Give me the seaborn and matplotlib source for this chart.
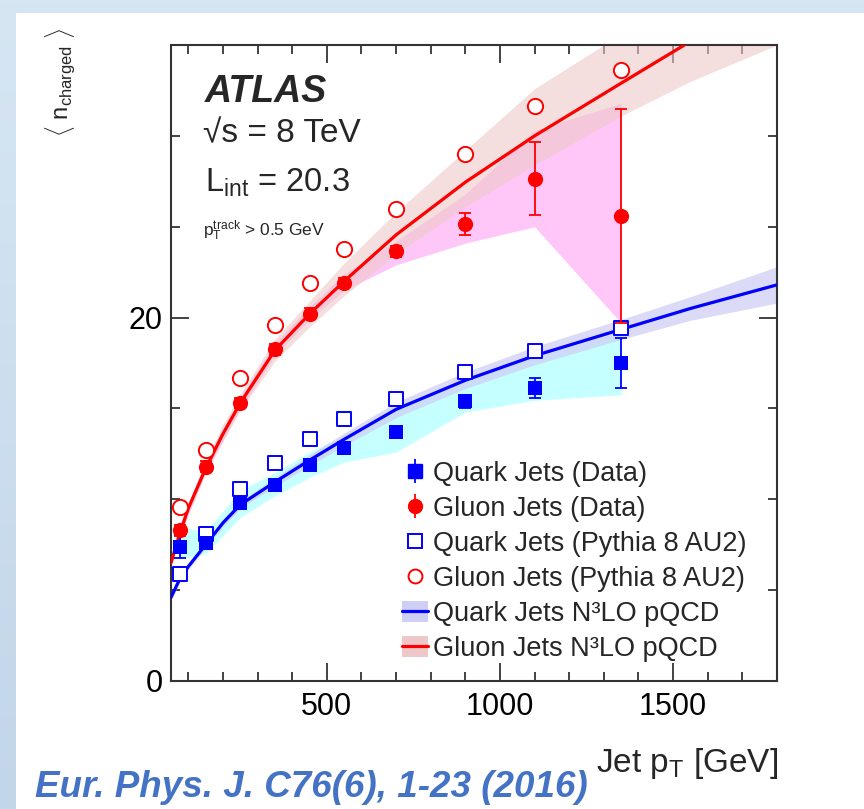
import numpy as np
import pandas as pd
import matplotlib
matplotlib.use("Agg")
import matplotlib.pyplot as plt
import seaborn as sns
from matplotlib.lines import Line2D
from matplotlib.patches import Patch, Rectangle
from matplotlib.legend_handler import HandlerTuple
from matplotlib.ticker import MultipleLocator, FixedLocator
from matplotlib.colors import LinearSegmentedColormap

# ---- measured points (bin centres in GeV) ----
pt_bins = [75, 150, 250, 350, 450, 550, 700, 900, 1100, 1350]

quark_data = [7.4, 7.6, 9.8, 10.8, 11.9, 12.8, 13.7, 15.4, 16.15, 17.5]
quark_data_err = [0.65, 0.3, 0.3, 0.3, 0.3, 0.3, 0.3, 0.35, 0.55, 1.4]
gluon_data = [8.3, 11.8, 15.3, 18.25, 20.2, 21.9, 23.65, 25.15, 27.65, 25.6]
gluon_data_err = [0.3, 0.3, 0.3, 0.3, 0.3, 0.3, 0.3, 0.6, 2.0, 5.9]

# systematic envelopes of the measurement
quark_sys_lo = [6.7, 7.0, 9.0, 10.2, 11.2, 12.05, 12.6, 14.8, 15.45, 15.75]
quark_sys_hi = [8.5, 8.2, 10.5, 11.45, 12.6, 13.5, 15.0, 16.6, 17.8, 19.2]
gluon_sys_lo = [8.0, 11.5, 15.0, 17.9, 19.9, 21.5, 22.9, 24.1, 25.0, 19.7]
gluon_sys_hi = [8.6, 12.1, 15.6, 18.6, 20.6, 22.4, 24.2, 26.8, 30.3, 31.8]

# Pythia 8 AU2 predictions
quark_mc = [5.9, 8.1, 10.55, 12.0, 13.3, 14.4, 15.5, 17.0, 18.15, 19.45]
gluon_mc = [9.6, 12.7, 16.65, 19.6, 21.9, 23.75, 25.95, 29.0, 31.65, 33.6]

# N3LO pQCD curves with uncertainty bands
curve_pt = [50, 75, 100, 150, 200, 250, 350, 450, 550, 700, 900, 1100, 1350, 1550, 1800]
quark_nlo = [4.6, 5.6, 6.3, 7.5, 8.7, 9.7, 10.95, 12.15, 13.3, 14.95, 16.55, 17.9, 19.35, 20.5, 21.8]
quark_nlo_lo = [4.45, 5.45, 6.15, 7.3, 8.5, 9.5, 10.7, 11.85, 12.95, 14.5, 16.1, 17.4, 18.8, 19.85, 20.8]
quark_nlo_hi = [4.75, 5.75, 6.45, 7.7, 8.9, 9.9, 11.2, 12.45, 13.65, 15.35, 17.0, 18.4, 19.9, 21.15, 22.8]
gluon_nlo = [6.5, 8.1, 9.5, 11.7, 13.6, 15.3, 18.2, 20.2, 22.0, 24.55, 27.45, 30.0, 32.9, 35.2, 38.0]
gluon_nlo_lo = [6.3, 7.8, 9.2, 11.4, 13.2, 14.9, 17.6, 19.5, 21.2, 23.5, 26.1, 28.4, 31.1, 33.0, 35.0]
gluon_nlo_hi = [6.7, 8.4, 9.8, 12.1, 14.1, 15.8, 18.8, 20.9, 23.0, 25.8, 29.2, 32.6, 35.6, 38.0, 40.5]

x_ticks_major = [500, 1000, 1500]
y_ticks_labels = {0: "0", 20: "20"}

BLUE = "#0000ff"
RED = "#ff0000"
CYAN = "#c6ffff"
MAGENTA = "#ffc6f8"
LAVENDER = "#cfcff5"
ROSE = "#eec8c8"

sns.set_theme(style="ticks")
plt.rcParams["font.family"] = ["Liberation Sans", "DejaVu Sans"]
plt.rcParams["mathtext.fontset"] = "custom"
plt.rcParams["mathtext.rm"] = "Liberation Sans"
plt.rcParams["mathtext.it"] = "Liberation Sans:italic"
plt.rcParams["mathtext.bf"] = "Liberation Sans:bold"

W, H = 864, 809
fig = plt.figure(figsize=(W / 100, H / 100), dpi=100)

# slide background: pale blue border around a white panel
bg = fig.add_axes([0, 0, 1, 1], zorder=-10)
grad = np.linspace(0, 1, 256).reshape(-1, 1)
cmap = LinearSegmentedColormap.from_list("bgblue", ["#d6e6f3", "#c2d6ea"])
bg.imshow(grad, extent=[0, 1, 0, 1], aspect="auto", cmap=cmap, origin="upper")
bg.add_patch(Rectangle((16 / W, 0), 1, 1 - 13 / H, color="white", lw=0))
bg.set_xlim(0, 1)
bg.set_ylim(0, 1)
bg.axis("off")

ax = fig.add_axes([171 / W, 1 - 681 / H, (777 - 171) / W, (681 - 45) / H])
ax.set_facecolor("white")

meas = pd.DataFrame({
    "pt": pt_bins, "quark": quark_data, "gluon": gluon_data,
    "quark_mc": quark_mc, "gluon_mc": gluon_mc,
})
theory = pd.DataFrame({
    "pt": curve_pt, "quark": quark_nlo, "gluon": gluon_nlo,
})

# systematic bands of the measurement
ax.fill_between(pt_bins, quark_sys_lo, quark_sys_hi, color=CYAN, lw=0, zorder=1)
ax.fill_between(pt_bins, gluon_sys_lo, gluon_sys_hi, color=MAGENTA, lw=0, zorder=1)

# theory uncertainty bands
ax.fill_between(curve_pt, quark_nlo_lo, quark_nlo_hi, color=LAVENDER, lw=0, alpha=0.75, zorder=2)
ax.fill_between(curve_pt, gluon_nlo_lo, gluon_nlo_hi, color=ROSE, lw=0, alpha=0.6, zorder=2)

# theory curves
sns.lineplot(data=theory, x="pt", y="quark", color=BLUE, lw=2.3, ax=ax, zorder=3, sort=False)
sns.lineplot(data=theory, x="pt", y="gluon", color=RED, lw=2.3, ax=ax, zorder=3, sort=False)

# Pythia markers (open)
sns.scatterplot(data=meas, x="pt", y="quark_mc", marker="s", s=110, facecolor="white",
                edgecolor=BLUE, linewidth=1.4, ax=ax, zorder=4)
sns.scatterplot(data=meas, x="pt", y="gluon_mc", marker="o", s=120, facecolor="white",
                edgecolor=RED, linewidth=1.4, ax=ax, zorder=4)

# data with statistical error bars
ax.errorbar(pt_bins, quark_data, yerr=quark_data_err, fmt="none", ecolor=BLUE,
            elinewidth=1.3, capsize=4, capthick=1.3, zorder=5)
ax.errorbar(pt_bins, gluon_data, yerr=gluon_data_err, fmt="none", ecolor=RED,
            elinewidth=1.3, capsize=4, capthick=1.3, zorder=5)
sns.scatterplot(data=meas, x="pt", y="quark", marker="s", s=110, color=BLUE,
                edgecolor=BLUE, linewidth=0, ax=ax, zorder=6)
sns.scatterplot(data=meas, x="pt", y="gluon", marker="o", s=120, color=RED,
                edgecolor=RED, linewidth=0, ax=ax, zorder=6)

ax.set_xlim(50, 1800)
ax.set_ylim(0, 35)
ax.xaxis.set_major_locator(FixedLocator(x_ticks_major))
ax.xaxis.set_minor_locator(MultipleLocator(100))
ax.yaxis.set_major_locator(FixedLocator(list(y_ticks_labels.keys())))
ax.yaxis.set_minor_locator(MultipleLocator(5))
ax.set_xticklabels([str(v) for v in x_ticks_major])
ax.set_yticklabels(list(y_ticks_labels.values()))
ax.tick_params(which="both", direction="in", top=True, right=True, colors="#222222",
               labelcolor="black", labelsize=22)
ax.tick_params(which="major", length=13, width=1.2)
ax.tick_params(which="minor", length=6.5, width=1.2)
ax.tick_params(axis="x", which="major", pad=8)
ax.tick_params(axis="y", which="major", pad=6)
for sp in ax.spines.values():
    sp.set_linewidth(1.5)
    sp.set_color("#333333")
ax.set_xlabel("")
ax.set_ylabel("")

# axis titles
fig.text(778 / W, 1 - 772 / H, r"Jet $\mathregular{p_{T}}$ [GeV]", ha="right", va="baseline",
         fontsize=24)
fig.text(61 / W, 1 - 28 / H, r"$\langle$ $\mathregular{n_{charged}}$ $\rangle$", rotation=90,
         ha="center", va="top", fontsize=17)

# experiment labels
fig.text(205 / W, 1 - 102 / H, "ATLAS", fontsize=27, fontweight="bold", fontstyle="italic",
         ha="left", va="baseline")
fig.text(203 / W, 1 - 142 / H, "\u221as = 8 TeV", fontsize=24, ha="left", va="baseline")
fig.text(205 / W, 1 - 192 / H, r"$\mathregular{L_{int}}$ = 20.3", fontsize=23.5, ha="left",
         va="baseline")
fig.text(203 / W, 1 - 236 / H, r"$\mathregular{p_{T}^{track}}$ > 0.5 GeV", fontsize=12.5,
         ha="left", va="baseline")

# legend
h_qd = Line2D([], [], color=BLUE, marker="s", markersize=10, ls="none")
h_gd = Line2D([], [], color=RED, marker="o", markersize=10, ls="none")
bar_q = Line2D([], [], color=BLUE, marker="|", markersize=17, ls="none", mew=1.3)
bar_g = Line2D([], [], color=RED, marker="|", markersize=17, ls="none", mew=1.3)
h_qm = Line2D([], [], color=BLUE, marker="s", markersize=10, ls="none", mfc="white", mew=1.4)
h_gm = Line2D([], [], color=RED, marker="o", markersize=10, ls="none", mfc="white", mew=1.4)
h_qt = (Patch(facecolor=LAVENDER, edgecolor="none"), Line2D([], [], color=BLUE, lw=2.3))
h_gt = (Patch(facecolor=ROSE, edgecolor="none"), Line2D([], [], color=RED, lw=2.3))
leg = ax.legend(
    [(bar_q, h_qd), (bar_g, h_gd), h_qm, h_gm, h_qt, h_gt],
    ["Quark Jets (Data)", "Gluon Jets (Data)", "Quark Jets (Pythia 8 AU2)",
     "Gluon Jets (Pythia 8 AU2)", "Quark Jets N\u00b3LO pQCD", "Gluon Jets N\u00b3LO pQCD"],
    handler_map={tuple: HandlerTuple(ndivide=1, pad=0)},
    loc="upper left", bbox_to_anchor=(402 / W, 1 - 461 / H), bbox_transform=fig.transFigure,
    frameon=False, fontsize=19.5, handlelength=0.95, handleheight=0.8, handletextpad=0.2,
    labelspacing=0.33, borderpad=0, borderaxespad=0,
)

# reference
fig.text(35 / W, 1 - 797 / H, "Eur. Phys. J. C76(6), 1-23 (2016)", fontsize=26.5,
         fontweight="bold", fontstyle="italic", color="#4472c4", ha="left", va="baseline")

fig.savefig("out.png", dpi=100)
